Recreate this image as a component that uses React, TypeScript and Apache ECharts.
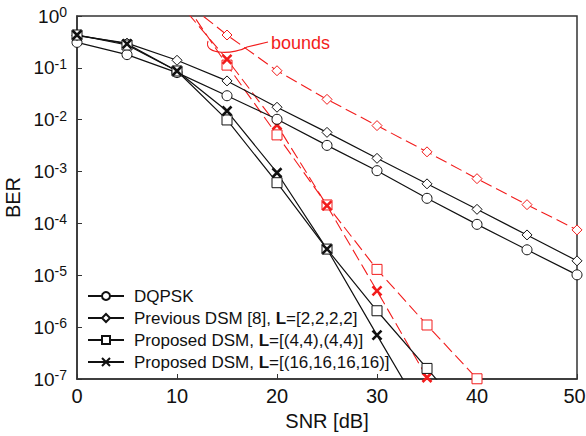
import React, { useEffect, useRef } from "react";
import * as echarts from "echarts";

const snrAll = [0, 5, 10, 15, 20, 25, 30, 35, 40, 45, 50];
const dqpsk = [0.31, 0.18, 0.081, 0.029, 0.0102, 0.0032, 0.00104, 3.05e-4, 9.6e-5, 3.1e-5, 1.02e-5];
const prevDsm = [0.42, 0.3, 0.14, 0.056, 0.0174, 0.0057, 0.0018, 5.8e-4, 1.87e-4, 6.0e-5, 1.9e-5];
const snrProp = [0, 5, 10, 15, 20, 25, 30, 35, 40];
const prop44 = [0.43, 0.276, 0.087, 0.0099, 6.1e-4, 3.2e-5, 2.07e-6, 1.6e-7, 1.2e-8];
const prop16 = [0.43, 0.29, 0.087, 0.0147, 9.5e-4, 3.2e-5, 7.0e-7, 1.6e-8, 4e-10];

const snrBoundPrev = [10, 15, 20, 25, 30, 35, 40, 45, 50];
const boundPrev = [2.5, 0.43, 0.088, 0.0247, 0.0077, 0.0024, 7.3e-4, 2.3e-4, 7.5e-5];
const snrBound44 = [10, 15, 20, 25, 30, 35, 40];
const bound44 = [3.0, 0.113, 0.0051, 2.27e-4, 1.3e-5, 1.1e-6, 1.01e-7];
const snrBound16 = [10, 15, 20, 25, 30, 35];
const bound16 = [2.0, 0.146, 0.0079, 2.2e-4, 5.0e-6, 1.07e-7];

const legendNames = [
  "DQPSK",
  "Previous DSM [8], L=[2,2,2,2]",
  "Proposed DSM, L=[(4,4),(4,4)]",
  "Proposed DSM, L=[(16,16,16,16)]",
];

const FONT = "'Liberation Sans', Arial, sans-serif";
const BLACK = "#111";
const RED = "#f21c1c";
const XPATH = "path://M0,0L10,10M10,0L0,10";

const pairs = (xs: number[], ys: number[]) => xs.map((x, i) => [x, ys[i]]);

export default function App() {
  const ref = useRef<HTMLDivElement>(null);
  useEffect(() => {
    document.body.style.margin = "0";
    const chart = echarts.init(ref.current!, null, { renderer: "svg" });
    const blackSeries = (name: string, data: number[][], symbol: string, isX = false) => ({
      name,
      type: "line",
      data,
      symbol,
      symbolSize: isX ? 9 : 10,
      lineStyle: { color: BLACK, width: 1.2 },
      itemStyle: isX
        ? { color: BLACK, borderColor: BLACK, borderWidth: 2.6 }
        : { color: "#fff", borderColor: BLACK, borderWidth: 1 },
      z: 3,
    });
    const redSeries = (name: string, data: number[][], symbol: string, isX = false) => ({
      name,
      type: "line",
      data,
      symbol,
      symbolSize: isX ? 9 : 10,
      lineStyle: { color: RED, width: 1.1, type: [12, 5] },
      itemStyle: isX
        ? { color: RED, borderColor: RED, borderWidth: 2.6 }
        : { color: "#fff", borderColor: RED, borderWidth: 1 },
      z: 2,
    });
    chart.setOption({
      animation: false,
      textStyle: { fontFamily: FONT },
      grid: {
        left: 77,
        right: 9,
        top: 16,
        bottom: 57,
        containLabel: false,
        outerBoundsMode: "none",
        show: true,
        borderColor: "#333",
        borderWidth: 1.5,
        backgroundColor: "transparent",
      },
      xAxis: {
        type: "value",
        min: 0,
        max: 50,
        interval: 10,
        name: "SNR [dB]",
        nameLocation: "middle",
        nameGap: 25,
        nameTextStyle: { fontSize: 20, color: BLACK, fontFamily: FONT },
        axisLine: { lineStyle: { color: "#333", width: 1.5 } },
        axisTick: { inside: true, length: 5, lineStyle: { color: "#333" } },
        axisLabel: {
          fontSize: 20,
          color: BLACK,
          margin: 7,
          fontFamily: FONT,
          formatter: (v: number) => (v === 50 ? `{m|${v}}` : `${v}`),
          rich: {
            m: { fontSize: 20, color: BLACK, fontFamily: FONT, padding: [0, 5, 0, 0] },
          },
        },
        splitLine: { show: false },
      },
      yAxis: {
        type: "log",
        logBase: 10,
        min: 1e-7,
        max: 1,
        name: "BER",
        nameLocation: "middle",
        nameGap: 52,
        nameTextStyle: { fontSize: 20, color: BLACK, fontFamily: FONT },
        axisLine: { lineStyle: { color: "#333", width: 1.5 } },
        axisTick: { inside: true, length: 5, lineStyle: { color: "#333" } },
        splitLine: { show: false },
        minorTick: { show: false },
        axisLabel: {
          margin: 10,
          color: BLACK,
          formatter: (v: number) => {
            const e = Math.round(Math.log10(v));
            return `{a|10}{b|${e}}`;
          },
          rich: {
            a: { fontSize: 19, color: BLACK, fontFamily: FONT, lineHeight: 22 },
            b: { fontSize: 14, color: BLACK, fontFamily: FONT, lineHeight: 14, verticalAlign: "top" },
          },
        },
      },
      legend: {
        data: legendNames,
        orient: "vertical",
        left: 87,
        top: 287,
        padding: 0,
        itemWidth: 36,
        itemHeight: 10,
        itemGap: 4,
        backgroundColor: "transparent",
        formatter: (name: string) => name.replace("L=", "{b|L}="),
        textStyle: {
          fontSize: 17,
          lineHeight: 18,
          color: BLACK,
          fontFamily: FONT,
          padding: [0, 0, 0, 5],
          rich: {
            b: { fontSize: 17, fontWeight: "bold", color: BLACK, fontFamily: FONT },
          },
        },
      },
      series: [
        blackSeries(legendNames[0], pairs(snrAll, dqpsk), "circle"),
        blackSeries(legendNames[1], pairs(snrAll, prevDsm), "diamond"),
        blackSeries(legendNames[2], pairs(snrProp, prop44), "rect"),
        blackSeries(legendNames[3], pairs(snrProp, prop16), XPATH, true),
        redSeries("bound prev", pairs(snrBoundPrev, boundPrev), "diamond"),
        redSeries("bound 44", pairs(snrBound44, bound44), "rect"),
        redSeries("bound 16", pairs(snrBound16, bound16), XPATH, true),
      ],
      graphic: [
        {
          type: "bezierCurve",
          shape: { x1: 208, y1: 41, cpx1: 203, cpy1: 56, cpx2: 236, cpy2: 54, x2: 247, y2: 47 },
          style: { stroke: RED, lineWidth: 1.1, fill: "none" },
          z: 10,
        },
        {
          type: "line",
          shape: { x1: 247, y1: 47, x2: 268, y2: 42 },
          style: { stroke: RED, lineWidth: 1.1 },
          z: 10,
        },
        {
          type: "text",
          x: 271,
          y: 43,
          style: {
            text: "bounds",
            fill: RED,
            fontSize: 18,
            fontFamily: FONT,
            verticalAlign: "middle",
          },
          z: 10,
        },
      ],
    });
    return () => chart.dispose();
  }, []);
  return (
    <div
      ref={ref}
      style={{ position: "absolute", left: 0, top: 0, width: 586, height: 436 }}
    />
  );
}
